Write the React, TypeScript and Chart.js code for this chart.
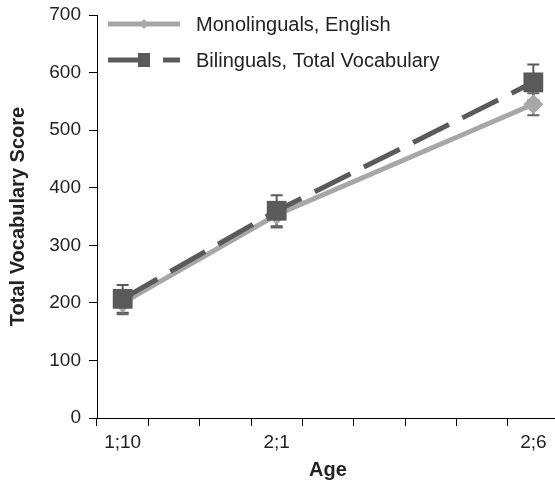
import React, { useEffect, useRef } from 'react';
import { Chart, registerables } from 'chart.js';

Chart.register(...registerables);

// ---- data ----
const monthLabels = ['1;10', '1;11', '2;0', '2;1', '2;2', '2;3', '2;4', '2;5', '2;6'];
const shownAges = ['1;10', '2;1', '2;6'];
const monolingualEnglish = [200, 353, 545];
const monolingualError = [20, 22, 19];
const bilingualTotal = [207, 360, 583];
const bilingualError = [24, 27, 31];
const yMin = 0;
const yMax = 700;
const yStep = 100;

const seriesNames = ['Monolinguals, English', 'Bilinguals, Total Vocabulary'];

const MONO_COLOR = '#a7a7a7';
const BILI_COLOR = '#5a5a5a';
const TEXT_COLOR = '#222222';
const FONT = '"Liberation Sans", Arial, Helvetica, sans-serif';

const errorBarPlugin = {
  id: 'errorBars',
  beforeDatasetsDraw(chart: any) {
    const ctx = chart.ctx;
    const yScale = chart.scales.y;
    chart.data.datasets.forEach((ds: any, di: number) => {
      const meta = chart.getDatasetMeta(di);
      meta.data.forEach((pt: any, i: number) => {
        const v = ds.data[i].y;
        const e = ds.errors[i];
        const top = yScale.getPixelForValue(v + e);
        const bot = yScale.getPixelForValue(v - e);
        ctx.save();
        ctx.strokeStyle = ds.errorColor;
        ctx.lineWidth = 2;
        ctx.beginPath();
        ctx.moveTo(pt.x, top);
        ctx.lineTo(pt.x, bot);
        ctx.moveTo(pt.x - 6, top);
        ctx.lineTo(pt.x + 6, top);
        ctx.moveTo(pt.x - 6, bot);
        ctx.lineTo(pt.x + 6, bot);
        ctx.stroke();
        ctx.restore();
      });
    });
  },
};

const legendPlugin = {
  id: 'customLegend',
  afterDraw(chart: any) {
    const ctx = chart.ctx;
    const { left, top } = chart.chartArea;
    const x0 = left + 11;
    const x1 = left + 83;
    const mid = left + 47;
    const textX = left + 99;
    const y1 = top + 9;
    const y2 = top + 45;
    ctx.save();
    // Monolinguals
    ctx.strokeStyle = MONO_COLOR;
    ctx.lineWidth = 5;
    ctx.beginPath();
    ctx.moveTo(x0, y1);
    ctx.lineTo(x1, y1);
    ctx.stroke();
    ctx.fillStyle = MONO_COLOR;
    ctx.beginPath();
    ctx.moveTo(mid - 5, y1);
    ctx.lineTo(mid, y1 - 5);
    ctx.lineTo(mid + 5, y1);
    ctx.lineTo(mid, y1 + 5);
    ctx.closePath();
    ctx.fill();
    // Bilinguals
    ctx.strokeStyle = BILI_COLOR;
    ctx.beginPath();
    ctx.moveTo(x0, y2);
    ctx.lineTo(mid, y2);
    ctx.moveTo(left + 66, y2);
    ctx.lineTo(x1, y2);
    ctx.stroke();
    ctx.fillStyle = BILI_COLOR;
    ctx.fillRect(mid - 6, y2 - 7, 12, 14);
    // text
    ctx.fillStyle = TEXT_COLOR;
    ctx.font = '20px ' + FONT;
    ctx.textBaseline = 'middle';
    ctx.textAlign = 'left';
    ctx.fillText(seriesNames[0], textX, y1 + 1);
    ctx.fillText(seriesNames[1], textX, y2 + 1);
    ctx.restore();
  },
};

export default function App() {
  const canvasRef = useRef<HTMLCanvasElement | null>(null);

  useEffect(() => {
    if (!canvasRef.current) return;
    const chart = new Chart(canvasRef.current, {
      type: 'line',
      data: {
        labels: monthLabels,
        datasets: [
          {
            label: seriesNames[1],
            data: shownAges.map((a, i) => ({ x: a, y: bilingualTotal[i] })),
            errors: bilingualError,
            errorColor: BILI_COLOR,
            borderColor: BILI_COLOR,
            backgroundColor: BILI_COLOR,
            borderWidth: 5,
            borderDash: [40, 15],
            pointStyle: 'rect',
            pointRadius: 14,
            pointBorderWidth: 0,
            pointBackgroundColor: BILI_COLOR,
            tension: 0,
          } as any,
          {
            label: seriesNames[0],
            data: shownAges.map((a, i) => ({ x: a, y: monolingualEnglish[i] })),
            errors: monolingualError,
            errorColor: '#666666',
            borderColor: MONO_COLOR,
            backgroundColor: MONO_COLOR,
            borderWidth: 5,
            pointStyle: 'rectRot',
            pointRadius: 10,
            pointBorderWidth: 0,
            pointBackgroundColor: MONO_COLOR,
            tension: 0,
          } as any,
        ],
      },
      options: {
        responsive: false,
        animation: false,
        events: [],
        layout: { padding: { top: 15, left: 0, right: 0, bottom: 0 } },
        plugins: {
          legend: { display: false },
          tooltip: { enabled: false },
        },
        scales: {
          x: {
            type: 'category',
            offset: true,
            grid: {
              offset: true,
              drawOnChartArea: false,
              drawTicks: true,
              tickLength: 8,
              color: '#000',
              tickColor: '#000',
              lineWidth: 1,
            },
            border: { display: true, color: '#000', width: 1 },
            ticks: {
              autoSkip: false,
              maxRotation: 0,
              padding: 5,
              color: TEXT_COLOR,
              font: { family: FONT, size: 19 },
              callback: function (this: any, val: any) {
                const l = this.getLabelForValue(val);
                return shownAges.includes(l) ? l : '';
              },
            },
            title: {
              display: true,
              text: 'Age',
              color: TEXT_COLOR,
              font: { family: FONT, size: 20, weight: 'bold' },
              padding: { top: 0, bottom: 2 },
            },
            afterFit: (s: any) => {
              s.height = 66;
            },
          },
          y: {
            type: 'linear',
            min: yMin,
            max: yMax,
            grid: {
              drawOnChartArea: false,
              drawTicks: true,
              tickLength: 8,
              color: '#000',
              tickColor: '#000',
              lineWidth: 1,
            },
            border: { display: true, color: '#000', width: 1 },
            ticks: {
              stepSize: yStep,
              padding: 8,
              color: TEXT_COLOR,
              font: { family: FONT, size: 19 },
            },
            title: {
              display: true,
              text: 'Total Vocabulary Score',
              color: TEXT_COLOR,
              font: { family: FONT, size: 20, weight: 'bold' },
              padding: { top: 6, bottom: 0 },
            },
            afterFit: (s: any) => {
              s.width = 97;
              s.paddingTop = 0;
              s.paddingBottom = 0;
            },
          },
        },
      } as any,
      plugins: [errorBarPlugin, legendPlugin],
    });
    return () => chart.destroy();
  }, []);

  return (
    <div
      style={{
        position: 'fixed',
        left: 0,
        top: 0,
        width: 555,
        height: 484,
        overflow: 'hidden',
        background: '#fff',
      }}
    >
      <canvas ref={canvasRef} width={573} height={484} style={{ display: 'block' }} />
    </div>
  );
}
